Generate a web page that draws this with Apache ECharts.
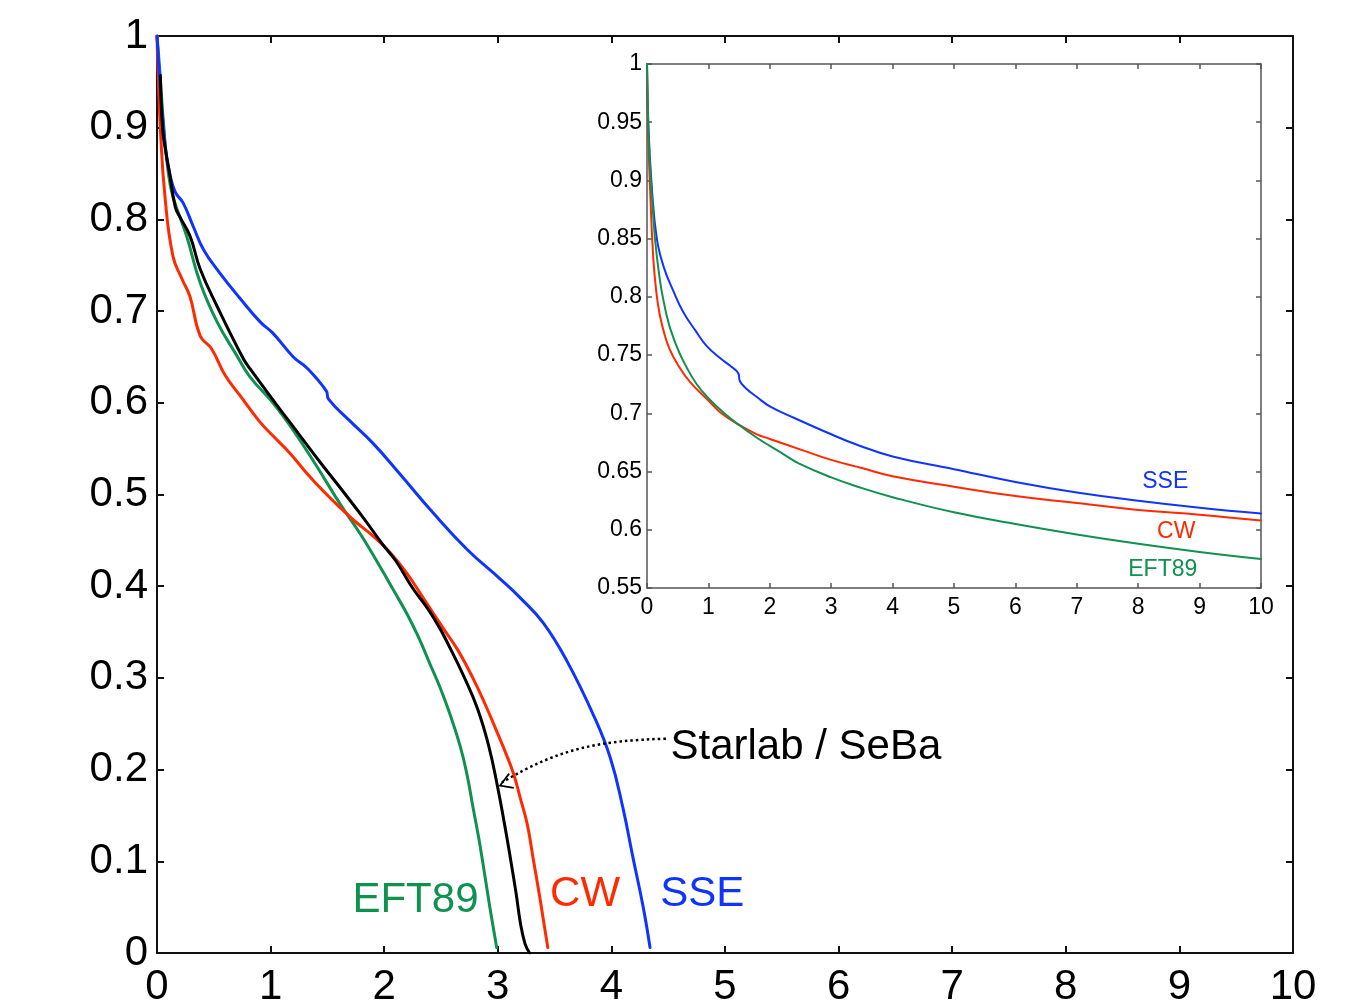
<!DOCTYPE html>
<html><head><meta charset="utf-8">
<script src="https://cdn.jsdelivr.net/npm/echarts@6/dist/echarts.min.js"></script>
<style>html,body{margin:0;padding:0;background:#fff}#c{width:1355px;height:1008px}</style>
</head><body><div id="c"></div>
<script>
// ---- main panel data: [t, fraction] ----
const mainSeBa = [[0.03,0.957],[0.05,0.898],[0.08,0.872],[0.11,0.851],[0.16,0.814],[0.2,0.803],[0.29,0.782],[0.38,0.746],[0.53,0.705],[0.76,0.648],[0.82,0.637],[1.04,0.600],[1.26,0.564],[1.45,0.533],[1.64,0.503],[1.82,0.474],[1.99,0.445],[2.1,0.428],[2.25,0.398],[2.38,0.376],[2.49,0.354],[2.55,0.340],[2.70,0.302],[2.82,0.267],[2.92,0.226],[3.0,0.180],[3.06,0.140],[3.11,0.104],[3.16,0.066],[3.2,0.032],[3.24,0.010],[3.28,0.0]];
const mainCW = [[0,1.0],[0.01,0.96],[0.03,0.898],[0.07,0.825],[0.14,0.760],[0.22,0.735],[0.29,0.716],[0.38,0.673],[0.48,0.659],[0.6,0.630],[0.73,0.608],[0.9,0.580],[1.02,0.564],[1.17,0.545],[1.32,0.523],[1.47,0.503],[1.61,0.486],[1.75,0.470],[1.9,0.455],[2.05,0.437],[2.2,0.414],[2.35,0.386],[2.52,0.354],[2.65,0.330],[2.78,0.300],[2.9,0.268],[2.99,0.242],[3.07,0.218],[3.14,0.195],[3.2,0.168],[3.26,0.140],[3.31,0.104],[3.36,0.068],[3.40,0.037],[3.44,0.006]];
const mainEFT89 = [[0,1.0],[0.02,0.97],[0.06,0.90],[0.10,0.85],[0.14,0.825],[0.26,0.782],[0.38,0.731],[0.53,0.688],[0.70,0.652],[0.82,0.628],[1.02,0.600],[1.2,0.570],[1.41,0.530],[1.61,0.490],[1.80,0.455],[1.96,0.422],[2.08,0.396],[2.2,0.370],[2.3,0.345],[2.4,0.316],[2.49,0.290],[2.58,0.260],[2.67,0.225],[2.73,0.194],[2.78,0.160],[2.83,0.127],[2.87,0.097],[2.93,0.050],[2.99,0.006]];
const mainSSE = [[0,1.0],[0.02,0.96],[0.05,0.91],[0.08,0.872],[0.11,0.851],[0.16,0.83],[0.23,0.818],[0.32,0.792],[0.41,0.767],[0.55,0.742],[0.73,0.714],[0.91,0.688],[1.02,0.676],[1.2,0.650],[1.32,0.638],[1.49,0.613],[1.51,0.604],[1.7,0.580],[1.9,0.556],[2.14,0.522],[2.43,0.480],[2.73,0.440],[3.02,0.408],[3.2,0.387],[3.40,0.360],[3.61,0.318],[3.84,0.260],[3.99,0.213],[4.1,0.159],[4.19,0.104],[4.28,0.050],[4.34,0.006]];
// ---- inset data ----
const insetSSE = [[0,1.0],[0.02,0.95],[0.08,0.893],[0.16,0.85],[0.27,0.826],[0.43,0.805],[0.59,0.787],[0.79,0.771],[0.97,0.758],[1.2,0.747],[1.35,0.741],[1.49,0.734],[1.51,0.728],[1.6,0.722],[1.79,0.714],[2.0,0.706],[2.4,0.696],[3.0,0.682],[3.42,0.673],[4.0,0.663],[5.0,0.652],[6.0,0.641],[7.0,0.632],[8.0,0.625],[9.0,0.619],[10,0.614]];
const insetCW = [[0,1.0],[0.01,0.96],[0.02,0.936],[0.05,0.893],[0.10,0.835],[0.15,0.805],[0.21,0.784],[0.29,0.767],[0.37,0.755],[0.5,0.742],[0.70,0.727],[1.0,0.711],[1.19,0.701],[1.5,0.690],[1.79,0.682],[2.0,0.678],[2.55,0.668],[3.0,0.660],[3.5,0.653],[4.0,0.646],[5.0,0.637],[6.0,0.629],[7.0,0.623],[8.0,0.617],[9.0,0.613],[10,0.608]];
const insetEFT89 = [[0,1.0],[0.02,0.95],[0.04,0.921],[0.08,0.887],[0.16,0.835],[0.32,0.784],[0.48,0.758],[0.65,0.739],[0.81,0.725],[1.0,0.713],[1.24,0.701],[1.5,0.690],[1.79,0.679],[2.0,0.672],[2.22,0.665],[2.47,0.657],[3.0,0.645],[3.49,0.636],[4.0,0.628],[5.0,0.615],[6.0,0.605],[7.0,0.596],[8.0,0.588],[9.0,0.581],[10,0.575]];
// ---- axis ranges ----
const mainXRange = [0, 10, 1];
const mainYRange = [0, 1, 0.1];
const insetXRange = [0, 10, 1];
const insetYRange = [0.55, 1, 0.05];

const FONT = '"Liberation Sans", Arial, Helvetica, sans-serif';
const C_SSE = '#1034ff', C_CW = '#ff2a00', C_EFT = '#0f9150', C_SEBA = '#000000';
const fmt = v => String(parseFloat(v.toFixed(2)));

function ax(grid, pos, range, showLabel, fs, margin, lc, lw, tl) {
  return {type:'value', gridIndex:grid, position:pos, min:range[0], max:range[1], interval:range[2],
    axisLine:{show:true, onZero:false, lineStyle:{color:lc, width:lw}},
    axisTick:{show:true, inside:true, length:tl, lineStyle:{color:lc, width:lw}},
    splitLine:{show:false},
    axisLabel:{show:showLabel, fontFamily:FONT, fontSize:fs, color:'#000', margin:margin, formatter:fmt}};
}

const chart = echarts.init(document.getElementById('c'));
const lineS = (name, data, color, w, xi, yi) => ({
  name, type:'line', data, xAxisIndex:xi, yAxisIndex:yi, showSymbol:false, symbol:'none',
  smooth:0.45, lineStyle:{color, width:w, cap:'round', join:'round'}, itemStyle:{color}, clip:true, silent:true, animation:false
});

chart.setOption({
  animation:false,
  backgroundColor:'#fff',
  grid:[
    {left:157, top:36, right:62, bottom:52},
    {left:647, top:64, right:94, bottom:420}
  ],
  xAxis:[
    ax(0,'bottom',mainXRange,true,42,13,'#111',2,7),
    ax(0,'top',mainXRange,false,42,10,'#111',2,7),
    ax(1,'bottom',insetXRange,true,23,8,'#555',1.5,5),
    ax(1,'top',insetXRange,false,23,5,'#555',1.5,5)
  ],
  yAxis:[
    ax(0,'left',mainYRange,true,42,9,'#111',2,7),
    ax(0,'right',mainYRange,false,42,9,'#111',2,7),
    ax(1,'left',insetYRange,true,23,5,'#555',1.5,5),
    ax(1,'right',insetYRange,false,23,5,'#555',1.5,5)
  ],
  series:[
    lineS('EFT89', mainEFT89, C_EFT, 3, 0, 0),
    lineS('CW', mainCW, C_CW, 3, 0, 0),
    lineS('SSE', mainSSE, C_SSE, 3, 0, 0),
    lineS('Starlab / SeBa', mainSeBa, C_SEBA, 3, 0, 0),
    lineS('SSE inset', insetSSE, C_SSE, 2, 2, 2),
    lineS('CW inset', insetCW, C_CW, 2, 2, 2),
    lineS('EFT89 inset', insetEFT89, C_EFT, 2, 2, 2)
  ]
});

const pm = p => chart.convertToPixel({xAxisIndex:0, yAxisIndex:0}, p);
const pi = p => chart.convertToPixel({xAxisIndex:2, yAxisIndex:2}, p);
function txt(text, p, color, fs, align) {
  return {type:'text', x:p[0], y:p[1], z:50, silent:true,
    style:{text, fill:color, font: fs + 'px ' + FONT, textAlign:align, textVerticalAlign:'middle'}};
}
const a0 = pm([4.48, 0.2337]), c1 = pm([3.90, 0.2315]), c2 = pm([3.546, 0.2239]), a3 = pm([3.036, 0.1859]);
const tip = pm([3.02, 0.1826]), arm1 = pm([3.10, 0.1956]), arm2 = pm([3.14, 0.1800]);
chart.setOption({
  graphic:[
    txt('EFT89', pm([2.83, 0.057]), C_EFT, 42, 'right'),
    txt('CW', pm([3.46, 0.064]), C_CW, 42, 'left'),
    txt('SSE', pm([4.43, 0.064]), C_SSE, 42, 'left'),
    txt('Starlab / SeBa', pm([4.52, 0.224]), '#000', 42, 'left'),
    txt('SSE', pi([8.44, 0.6410]), C_SSE, 23, 'center'),
    txt('CW', pi([8.62, 0.5985]), C_CW, 23, 'center'),
    txt('EFT89', pi([8.40, 0.5655]), C_EFT, 23, 'center'),
    {type:'bezierCurve', z:50, silent:true,
      shape:{x1:a0[0], y1:a0[1], cpx1:c1[0], cpy1:c1[1], cpx2:c2[0], cpy2:c2[1], x2:a3[0], y2:a3[1]},
      style:{stroke:'#000', lineWidth:2.5, fill:null, lineDash:[2.5,3]}},
    {type:'polyline', z:50, silent:true,
      shape:{points:[arm1, tip, arm2]},
      style:{stroke:'#000', lineWidth:1.8, fill:null}}
  ]
});
</script>
</body></html>
